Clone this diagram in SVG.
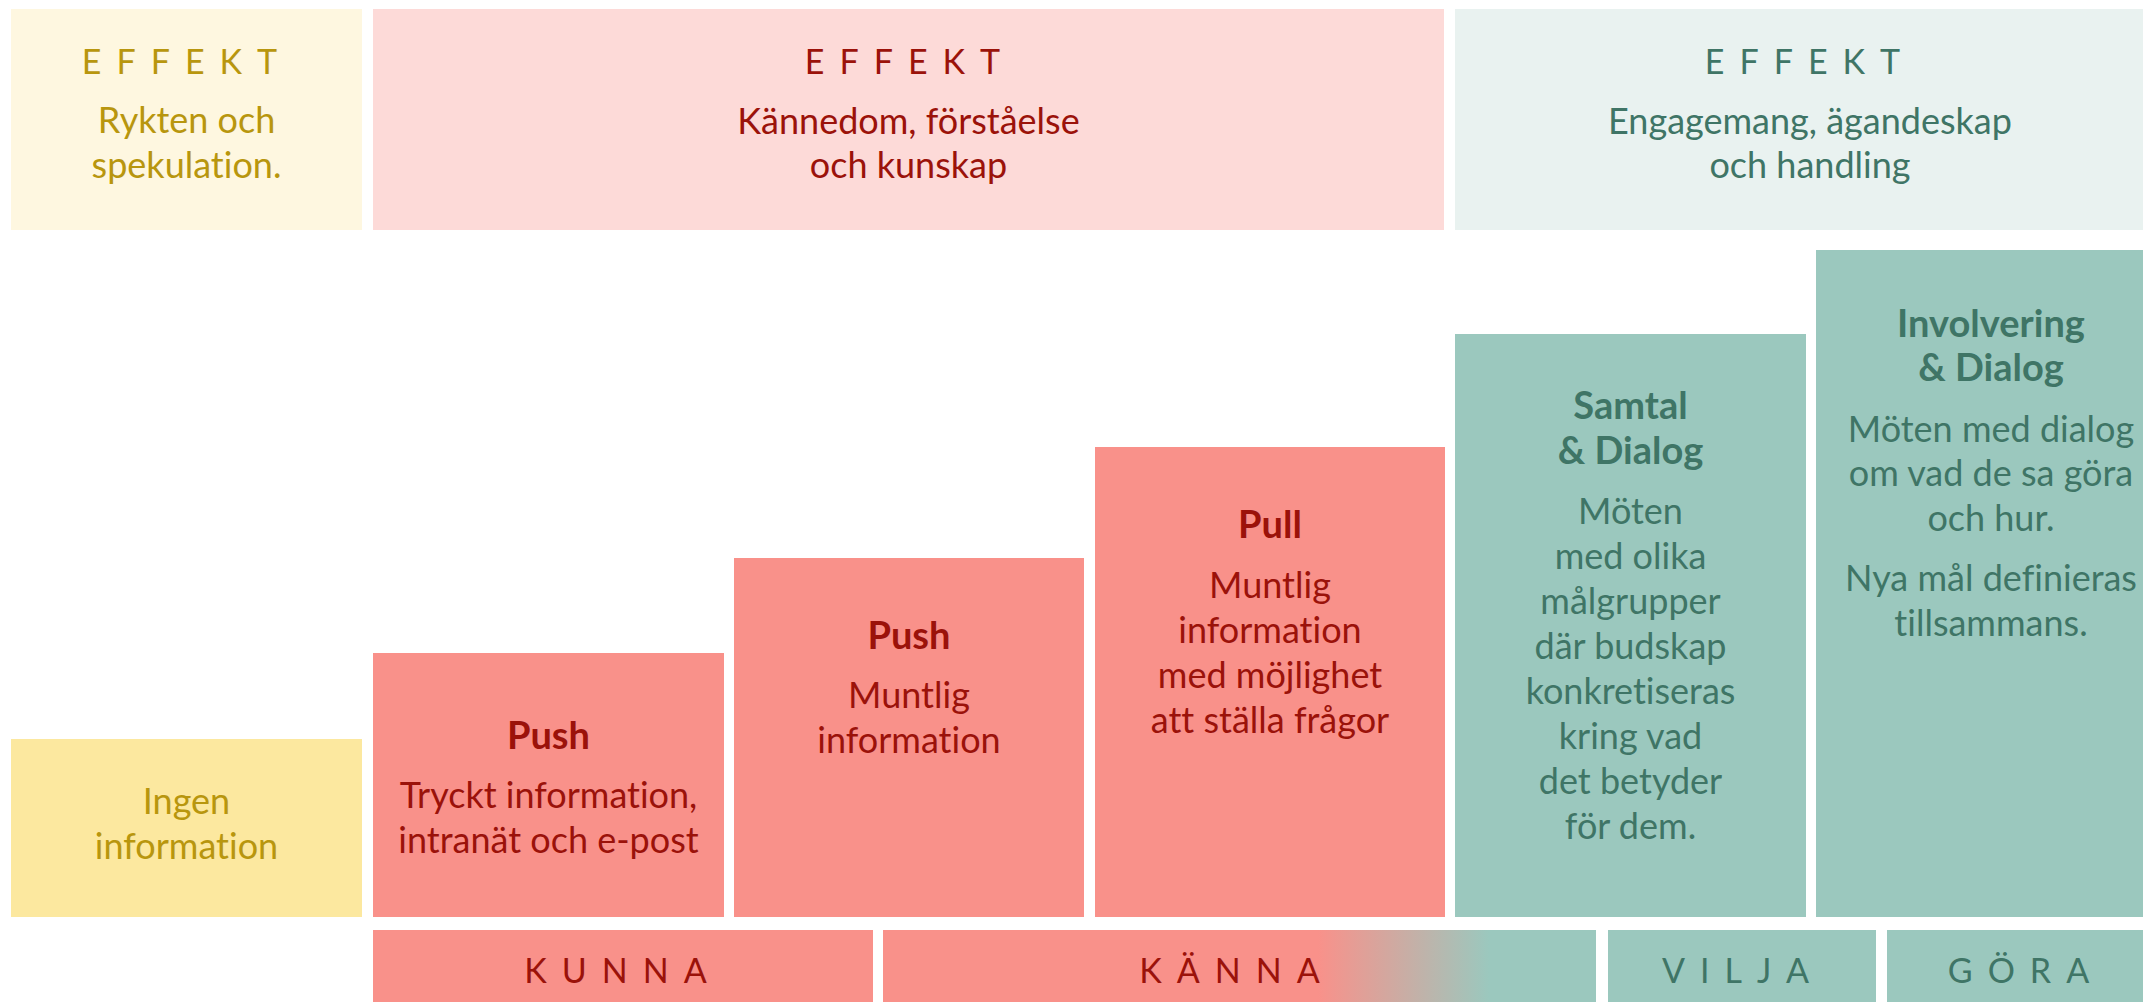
<svg xmlns="http://www.w3.org/2000/svg" width="2143" height="1002" viewBox="0 0 2143 1002">
<style>
text{font-family:Lato,"Source Sans Pro","Liberation Sans",sans-serif;font-size:36px;text-anchor:middle;font-variant-ligatures:none}
.sp{letter-spacing:15px;font-size:34px}
.b{font-weight:bold;font-size:38px}
.ty{fill:#B8960E}.tr{fill:#9B120A}.tt{fill:#3F7566}
.hy{fill:#FEF7E0}.hr{fill:#FDDAD8}.ht{fill:#E9F2F0}
.by{fill:#FCE89F}.br{fill:#F9918A}.bt{fill:#9BC8BE}
</style>
<defs>
<linearGradient id="g" x1="883" y1="0" x2="1596" y2="0" gradientUnits="userSpaceOnUse">
<stop offset="0" stop-color="#F9918A"/>
<stop offset="0.61" stop-color="#F9918A"/>
<stop offset="0.85" stop-color="#9BC8BE"/>
<stop offset="1" stop-color="#9BC8BE"/>
</linearGradient>
</defs>
<rect width="2143" height="1002" fill="#fff"/>
<g id="effekt-rykten">
<rect class="hy" x="11" y="9" width="351" height="221"/>
<text class="ty sp" x="187" y="74">EFFEKT</text>
<text class="ty" x="186.5" y="133">Rykten och</text>
<text class="ty" x="186.5" y="178">spekulation.</text>
</g>
<g id="effekt-kannedom">
<rect class="hr" x="373" y="9" width="1071" height="221"/>
<text class="tr sp" x="910" y="74">EFFEKT</text>
<text class="tr" x="908.5" y="134">Kännedom, förståelse</text>
<text class="tr" x="908.5" y="178">och kunskap</text>
</g>
<g id="effekt-engagemang">
<rect class="ht" x="1455" y="9" width="711" height="221"/>
<text class="tt sp" x="1810" y="74">EFFEKT</text>
<text class="tt" x="1810" y="134">Engagemang, ägandeskap</text>
<text class="tt" x="1810" y="178">och handling</text>
</g>
<g id="ingen">
<rect class="by" x="11" y="739" width="351" height="178"/>
<text class="ty" x="186.5" y="814">Ingen</text>
<text class="ty" x="186.5" y="859">information</text>
</g>
<g id="push1">
<rect class="br" x="373" y="653" width="351" height="264"/>
<text class="tr b" x="548.5" y="749">Push</text>
<text class="tr" x="548.5" y="808">Tryckt information,</text>
<text class="tr" x="548.5" y="853">intranät och e-post</text>
</g>
<g id="push2">
<rect class="br" x="734" y="558" width="350" height="359"/>
<text class="tr b" x="909" y="649">Push</text>
<text class="tr" x="909" y="708">Muntlig</text>
<text class="tr" x="909" y="753">information</text>
</g>
<g id="pull">
<rect class="br" x="1095" y="447" width="350" height="470"/>
<text class="tr b" x="1270" y="538">Pull</text>
<text class="tr" x="1270" y="598">Muntlig</text>
<text class="tr" x="1270" y="643">information</text>
<text class="tr" x="1270" y="688">med möjlighet</text>
<text class="tr" x="1270" y="733">att ställa frågor</text>
</g>
<g id="samtal">
<rect class="bt" x="1455" y="334" width="351" height="583"/>
<text class="tt b" x="1630.5" y="419">Samtal</text>
<text class="tt b" x="1630.5" y="464">&amp; Dialog</text>
<text class="tt" x="1630.5" y="524">Möten</text>
<text class="tt" x="1630.5" y="569">med olika</text>
<text class="tt" x="1630.5" y="614">målgrupper</text>
<text class="tt" x="1630.5" y="659">där budskap</text>
<text class="tt" x="1630.5" y="704">konkretiseras</text>
<text class="tt" x="1630.5" y="749">kring vad</text>
<text class="tt" x="1630.5" y="794">det betyder</text>
<text class="tt" x="1630.5" y="839">för dem.</text>
</g>
<g id="involvering">
<rect class="bt" x="1816" y="250" width="350" height="667"/>
<text class="tt b" x="1991" y="337">Involvering</text>
<text class="tt b" x="1991" y="381">&amp; Dialog</text>
<text class="tt" x="1991" y="442">Möten med dialog</text>
<text class="tt" x="1991" y="486">om vad de sa göra</text>
<text class="tt" x="1991" y="531">och hur.</text>
<text class="tt" x="1991" y="591">Nya mål definieras</text>
<text class="tt" x="1991" y="636">tillsammans.</text>
</g>
<g id="kunna">
<rect class="br" x="373" y="930" width="500" height="72"/>
<text class="tr sp" x="623" y="983">KUNNA</text>
</g>
<g id="kanna">
<rect x="883" y="930" width="713" height="72" fill="url(#g)"/>
<text class="tr sp" x="1237" y="983">KÄNNA</text>
</g>
<g id="vilja">
<rect class="bt" x="1608" y="930" width="268" height="72"/>
<text class="tt sp" x="1743" y="983">VILJA</text>
</g>
<g id="gora">
<rect class="bt" x="1887" y="930" width="279" height="72"/>
<text class="tt sp" x="2026" y="983">GÖRA</text>
</g>
<g id="connectors"></g>
</svg>
